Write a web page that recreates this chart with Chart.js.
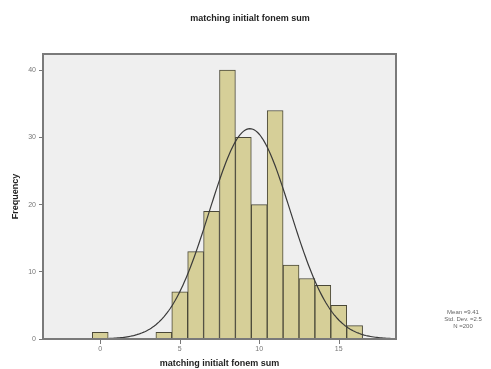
<!DOCTYPE html>
<html>
<head>
<meta charset="utf-8">
<script src="https://cdn.jsdelivr.net/npm/chart.js@4"></script>
<style>
  html, body { margin: 0; padding: 0; background: #ffffff; }
  #wrap { width: 491px; height: 369px; position: relative; }
</style>
</head>
<body>
<div id="wrap"><canvas id="c"></canvas></div>
<script>
// Histogram bins (score value) and their frequencies
const binValues = [0, 4, 5, 6, 7, 8, 9, 10, 11, 12, 13, 14, 15, 16];
const frequencies = [1, 1, 7, 13, 19, 40, 30, 20, 34, 11, 9, 8, 5, 2];

// Summary statistics shown beside the plot
const statMean = 9.41;
const statSD = 2.55;
const statN = 200;
const statLines = ['Mean =9.41', 'Std. Dev. =2.5', 'N =200'];

// Axis ticks
const xTicks = [0, 5, 10, 15];
const yTicks = [0, 10, 20, 30, 40];

const titleText = 'matching initialt fonem sum';
const xTitle = 'matching initialt fonem sum';
const yTitle = 'Frequency';

const X_MIN = -3.6, X_MAX = 18.6, Y_MAX = 42.4;

// Normal curve fitted from the stated mean, SD and N (bin width 1)
const curvePts = [];
for (let i = 0; i <= 222; i++) {
  const x = X_MIN + i * 0.1;
  const z = (x - statMean) / statSD;
  curvePts.push({ x: x, y: statN / (statSD * Math.sqrt(2 * Math.PI)) * Math.exp(-0.5 * z * z) });
}

const barData = binValues.map((v, i) => ({ x: v, y: frequencies[i] }));

const FONT = '"Liberation Sans", Arial, sans-serif';

const decor = {
  id: 'decor',
  beforeDatasetsDraw(chart) {
    const { ctx, chartArea: a } = chart;
    ctx.save();
    ctx.fillStyle = '#efefef';
    ctx.fillRect(a.left, a.top, a.right - a.left, a.bottom - a.top);
    ctx.restore();
  },
  afterDraw(chart) {
    const { ctx, chartArea: a, scales } = chart;
    ctx.save();
    ctx.strokeStyle = '#7a7a7a';
    ctx.lineWidth = 2;
    ctx.strokeRect(a.left, a.top, a.right - a.left, a.bottom - a.top);
    // tick marks below the category axis
    ctx.strokeStyle = '#777';
    ctx.lineWidth = 1;
    ctx.beginPath();
    xTicks.forEach(v => {
      const px = Math.round(scales.x.getPixelForValue(v)) + 0.5;
      ctx.moveTo(px, a.bottom + 1);
      ctx.lineTo(px, a.bottom + 5);
    });
    ctx.stroke();
    ctx.fillStyle = '#222';
    ctx.font = 'bold 9px ' + FONT;
    ctx.textAlign = 'center';
    ctx.textBaseline = 'middle';
    ctx.fillText(titleText, 250, 19);
    ctx.fillStyle = '#666';
    ctx.font = '6px ' + FONT;
    statLines.forEach((s, i) => ctx.fillText(s, 463, 312 + i * 7));
    ctx.restore();
  }
};

new Chart(document.getElementById('c'), {
  data: {
    datasets: [
      {
        type: 'line',
        data: curvePts,
        borderColor: '#3a3a3a',
        borderWidth: 1.2,
        pointRadius: 0,
        tension: 0,
        order: 0
      },
      {
        type: 'bar',
        data: barData,
        backgroundColor: '#d6cf98',
        borderColor: '#4a4838',
        borderWidth: 1,
        barPercentage: 1,
        categoryPercentage: 1,
        order: 1
      }
    ]
  },
  options: {
    responsive: true,
    maintainAspectRatio: false,
    animation: false,
    layout: { padding: { left: 0, top: 54, right: 95, bottom: 0 } },
    plugins: { legend: { display: false }, tooltip: { enabled: false } },
    scales: {
      x: {
        type: 'linear',
        min: X_MIN,
        max: X_MAX,
        offset: false,
        afterBuildTicks(s) { s.ticks = xTicks.map(v => ({ value: v })); },
        afterFit(s) { s.height = 30; },
        grid: { display: false, drawTicks: false },
        border: { display: false },
        ticks: { color: '#777', font: { family: FONT, size: 7 }, padding: 6, maxRotation: 0, autoSkip: false },
        title: { display: true, text: xTitle, color: '#222', font: { family: FONT, size: 9, weight: 'bold' }, padding: { top: 2, bottom: 0 } }
      },
      y: {
        min: 0,
        max: Y_MAX,
        afterBuildTicks(s) { s.ticks = yTicks.map(v => ({ value: v })); },
        afterFit(s) { s.width = 43; },
        grid: { offset: false, drawOnChartArea: false, drawTicks: true, tickLength: 4, color: '#777' },
        border: { display: false },
        ticks: { color: '#777', font: { family: FONT, size: 7 }, padding: 3 },
        title: { display: true, text: yTitle, color: '#222', font: { family: FONT, size: 9, weight: 'bold' }, padding: { top: 10, bottom: 0 } }
      }
    }
  },
  plugins: [decor]
});
</script>
</body>
</html>
